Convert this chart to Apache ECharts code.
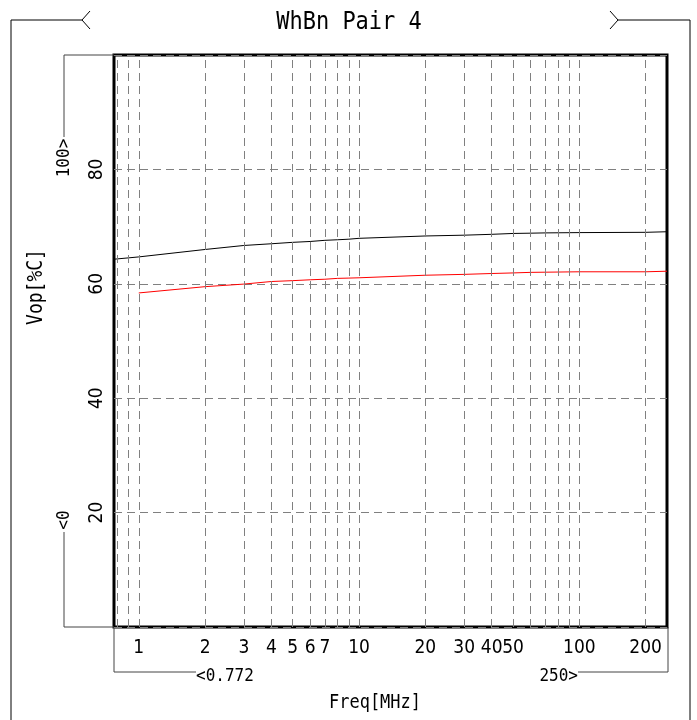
<!DOCTYPE html>
<html>
<head>
<meta charset="utf-8">
<script src="https://cdn.jsdelivr.net/npm/echarts@6/dist/echarts.min.js"></script>
<style>html,body{margin:0;padding:0;background:#fff;}#c{width:697px;height:720px;}</style>
</head>
<body>
<div id="c"></div>
<script>
const titleText = 'WhBn Pair 4';
const xName = 'Freq[MHz]';
const yName = 'Vop[%C]';
const xMin = 0.772, xMax = 250;
const yMin = 0, yMax = 100;
const xLabelValues = [1, 2, 3, 4, 5, 6, 7, 10, 20, 30, 40, 50, 100, 200];
const xGridValues = [0.8, 0.9, 1, 2, 3, 4, 5, 6, 7, 8, 9, 10, 20, 30, 40, 50, 60, 70, 80, 90, 100, 200];
const yTickLabels = [20, 40, 60, 80];
const blackFreq = [0.772, 1, 2, 3, 4, 5, 6, 7, 8, 9, 10, 20, 30, 40, 50, 60, 70, 100, 200, 250];
const blackVop  = [64.3, 64.7, 66.0, 66.7, 67.0, 67.25, 67.4, 67.6, 67.7, 67.8, 67.95, 68.36, 68.5, 68.65, 68.8, 68.85, 68.9, 68.95, 69.0, 69.1];
const redFreq = [1, 2, 3, 4, 5, 6, 7, 8, 9, 10, 20, 30, 40, 50, 60, 100, 200, 250];
const redVop  = [58.4, 59.5, 59.95, 60.4, 60.55, 60.7, 60.8, 60.95, 61.0, 61.05, 61.5, 61.65, 61.8, 61.9, 62.0, 62.1, 62.1, 62.2];

const FONT = '"DejaVu Sans Mono", "Liberation Mono", monospace';
const NARROW = '"Liberation Sans Narrow", "DejaVu Sans Condensed", "DejaVu Sans Mono", sans-serif';
const chart = echarts.init(document.getElementById('c'), null, {renderer: 'canvas'});
const zip = (a, b) => a.map((v, i) => [v, b[i]]);
const gridDash = {color: '#808080', width: 1, type: [8, 5]};

chart.setOption({
  animation: false,
  backgroundColor: '#fff',
  grid: {left: 114, right: 30, top: 55, bottom: 93, show: true, borderColor: '#000', borderWidth: 3, backgroundColor: 'transparent'},
  xAxis: {
    type: 'log', logBase: 10, min: xMin, max: xMax,
    axisLine: {show: false},
    axisTick: {show: false},
    splitLine: {show: false},
    axisLabel: {
      customValues: xLabelValues,
      margin: 12, fontFamily: NARROW, fontSize: 19, color: '#000',
      formatter: v => String(v)
    }
  },
  yAxis: {
    type: 'value', min: yMin, max: yMax, interval: 20,
    axisLine: {show: false},
    axisTick: {show: false},
    splitLine: {show: true, lineStyle: gridDash},
    axisLabel: {
      rotate: 90, margin: 7, fontFamily: NARROW, fontSize: 19, color: '#000',
      formatter: v => (yTickLabels.indexOf(v) >= 0 ? String(v) : '')
    }
  },
  series: [
    {
      type: 'line', data: [], z: 1, silent: true,
      markLine: {
        silent: true, symbol: ['none', 'none'], label: {show: false},
        lineStyle: gridDash, animation: false,
        data: xGridValues.map(v => ({xAxis: v}))
      }
    },
    {
      type: 'line', data: zip(blackFreq, blackVop), showSymbol: false, symbol: 'none', z: 3,
      lineStyle: {color: '#000', width: 1}
    },
    {
      type: 'line', data: zip(redFreq, redVop), showSymbol: false, symbol: 'none', z: 3,
      lineStyle: {color: '#ff0000', width: 1}
    }
  ],
  graphic: [
    {type: 'text', x: 349, y: 22, scaleY: 1.15, style: {text: titleText, font: '22px ' + FONT, fill: '#000', align: 'center', verticalAlign: 'middle'}},
    {type: 'polyline', shape: {points: [[11, 720], [11, 20], [82, 20]]}, style: {stroke: '#000', lineWidth: 1, fill: null}},
    {type: 'polyline', shape: {points: [[90, 11], [82, 20], [90, 29]]}, style: {stroke: '#000', lineWidth: 1, fill: null}},
    {type: 'polyline', shape: {points: [[610, 11], [618, 20], [610, 29]]}, style: {stroke: '#000', lineWidth: 1, fill: null}},
    {type: 'polyline', shape: {points: [[618, 20], [690, 20], [690, 720]]}, style: {stroke: '#000', lineWidth: 1, fill: null}},
    {type: 'polyline', shape: {points: [[114, 55], [64, 55], [64, 137]]}, style: {stroke: '#444', lineWidth: 1, fill: null}},
    {type: 'text', x: 64, y: 158, rotation: Math.PI / 2, scaleY: 1.15, style: {text: '100>', font: '16px ' + FONT, fill: '#000', align: 'center', verticalAlign: 'middle'}},
    {type: 'text', x: 64, y: 520, rotation: Math.PI / 2, scaleY: 1.15, style: {text: '<0', font: '16px ' + FONT, fill: '#000', align: 'center', verticalAlign: 'middle'}},
    {type: 'polyline', shape: {points: [[64, 532], [64, 627], [114, 627]]}, style: {stroke: '#444', lineWidth: 1, fill: null}},
    {type: 'polyline', shape: {points: [[114, 627], [114, 672], [196, 672]]}, style: {stroke: '#444', lineWidth: 1, fill: null}},
    {type: 'text', x: 196, y: 676, scaleY: 1.15, style: {text: '<0.772', font: '16px ' + FONT, fill: '#000', align: 'left', verticalAlign: 'middle'}},
    {type: 'text', x: 578, y: 676, scaleY: 1.15, style: {text: '250>', font: '16px ' + FONT, fill: '#000', align: 'right', verticalAlign: 'middle'}},
    {type: 'polyline', shape: {points: [[578, 672], [668, 672], [668, 627]]}, style: {stroke: '#444', lineWidth: 1, fill: null}},
    {type: 'text', x: 375, y: 703, scaleY: 1.15, style: {text: xName, font: '17px ' + FONT, fill: '#000', align: 'center', verticalAlign: 'middle'}},
    {type: 'text', x: 37, y: 287, rotation: Math.PI / 2, scaleY: 1.15, style: {text: yName, font: '18px ' + FONT, fill: '#000', align: 'center', verticalAlign: 'middle'}}
  ]
});
</script>
</body>
</html>
